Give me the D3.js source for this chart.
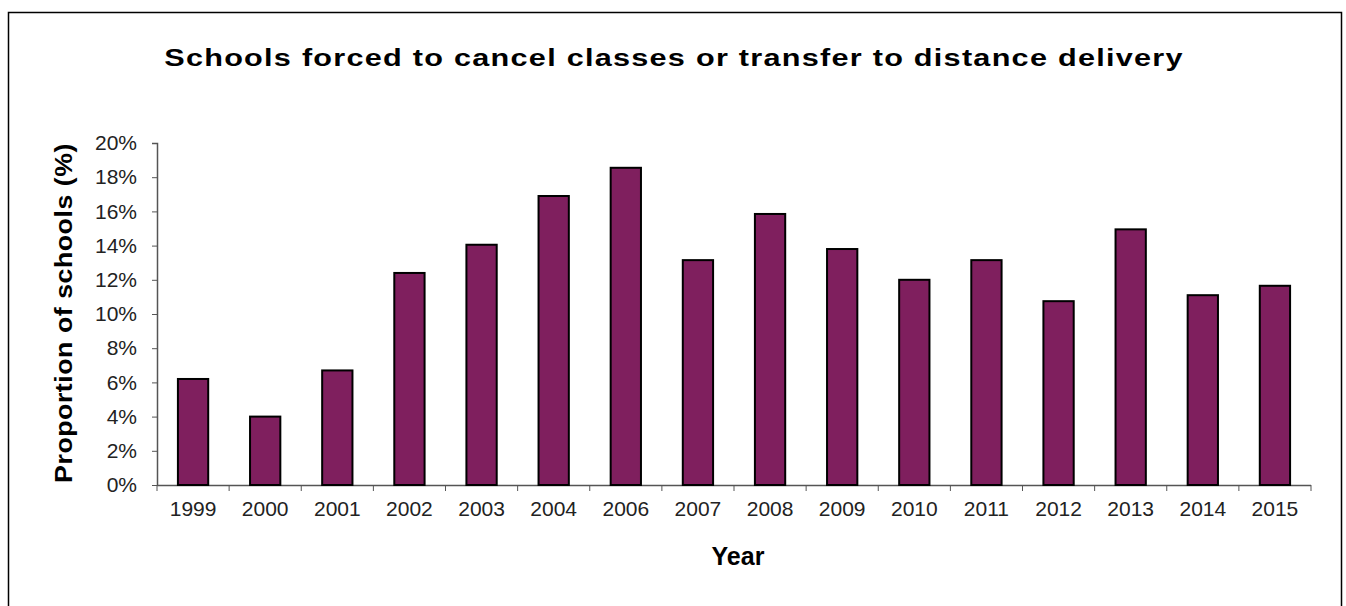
<!DOCTYPE html>
<html>
<head>
<meta charset="utf-8">
<script src="https://cdn.jsdelivr.net/npm/d3@7"></script>
<style>
  body { margin: 0; background: #fff; }
  svg { display: block; font-family: "Liberation Sans", Arial, sans-serif; }
</style>
</head>
<body>
<div id="chart"></div>
<script>
// data
var years = ["1999", "2000", "2001", "2002", "2003", "2004", "2006", "2007",
             "2008", "2009", "2010", "2011", "2012", "2013", "2014", "2015"];
var proportions = [6.2, 4.0, 6.7, 12.4, 14.05, 16.9, 18.55, 13.15,
                   15.85, 13.8, 12.0, 13.15, 10.75, 14.95, 11.1, 11.65];
var yTicks = [0, 2, 4, 6, 8, 10, 12, 14, 16, 18, 20];

var W = 1346, H = 606;
var margin = { top: 143, right: 35, bottom: 121, left: 157 },
    width = W - margin.left - margin.right,
    height = H - margin.top - margin.bottom;

var root = d3.select("#chart").append("svg")
    .attr("width", W)
    .attr("height", H);

// outer frame
root.append("rect")
    .attr("x", 8.5).attr("y", 12.5)
    .attr("width", 1333).attr("height", 620)
    .attr("fill", "none")
    .attr("stroke", "#000")
    .attr("stroke-width", 1.5);

// stretch a text horizontally (or vertically once rotated) to a target length
function fitText(sel, target) {
    var len = sel.node().getComputedTextLength();
    return target / len;
}

// title
var title = root.append("text")
    .attr("text-anchor", "middle")
    .style("font-size", "24.5px")
    .style("font-weight", "bold")
    .style("letter-spacing", "1px")
    .text("Schools forced to cancel classes or transfer to distance delivery");
title.attr("transform", "translate(674,66) scale(" + fitText(title, 1020) + ",1)");

var svg = root.append("g")
    .attr("transform", "translate(" + margin.left + "," + margin.top + ")");

var x = d3.scaleBand().domain(years).range([0, width]).paddingInner(0.58).paddingOuter(0.29);
var y = d3.scaleLinear().domain([0, 20]).range([height, 0]);

// y axis
var yAxis = svg.append("g")
    .call(d3.axisLeft(y).tickValues(yTicks).tickSize(5).tickPadding(15)
        .tickFormat(function(d) { return d + "%"; }));

// x axis, ticks between the categories
var xAxis = svg.append("g")
    .attr("transform", "translate(0," + height + ")")
    .call(d3.axisBottom(x).tickSize(0).tickPadding(16));

var step = x.step();
xAxis.selectAll(".sep")
    .data(d3.range(years.length + 1))
    .enter().append("line")
    .attr("class", "sep")
    .attr("x1", function(i) { return i * step; })
    .attr("x2", function(i) { return i * step; })
    .attr("y1", 0).attr("y2", 6)
    .attr("stroke", "#555");

[yAxis, xAxis].forEach(function(a) {
    a.select(".domain").attr("stroke", "#555").attr("stroke-width", 1.5);
    a.selectAll(".tick line").attr("stroke", "#555");
    a.selectAll(".tick text")
        .attr("fill", "#222")
        .style("font-size", "21px")
        .style("font-family", "Liberation Sans, Arial, sans-serif");
});
yAxis.select(".domain").attr("d", "M-5,0.5H0.5V" + height);
xAxis.select(".domain").attr("d", "M0,0.5H" + width);

// bars
svg.selectAll("rect.bar")
    .data(proportions)
    .enter().append("rect")
    .attr("class", "bar")
    .attr("x", function(d, i) { return x(years[i]); })
    .attr("y", function(d) { return y(d); })
    .attr("width", x.bandwidth())
    .attr("height", function(d) { return height - y(d); })
    .attr("fill", "#7f1f5e")
    .attr("stroke", "#000")
    .attr("stroke-width", 2);

// axis titles
var yTitle = root.append("text")
    .attr("text-anchor", "middle")
    .style("font-size", "24px")
    .style("font-weight", "bold")
    .style("letter-spacing", "0.5px")
    .text("Proportion of schools (%)");
yTitle.attr("transform", "translate(72," + (margin.top + height / 2 - 1) + ") rotate(-90) scale(" +
    fitText(yTitle, 340) + ",1)");

root.append("text")
    .attr("x", 738).attr("y", 565)
    .attr("text-anchor", "middle")
    .style("font-size", "25px")
    .style("font-weight", "bold")
    .text("Year");
</script>
</body>
</html>
